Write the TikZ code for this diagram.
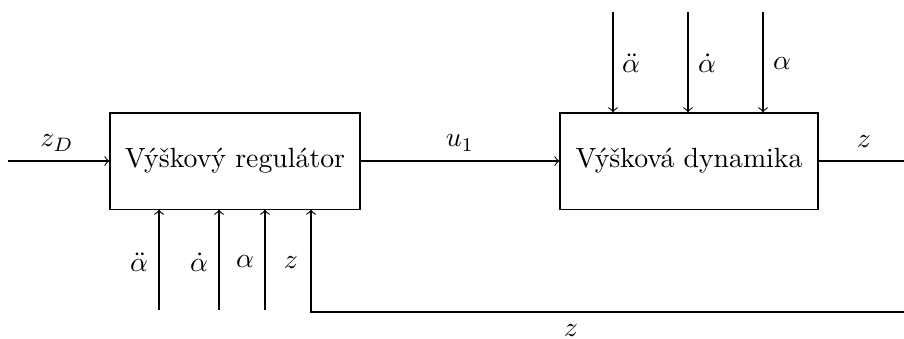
\documentclass[tikz,border=0pt]{standalone}
\usepackage{amsmath}
\usepackage{amssymb}
\usetikzlibrary{calc,positioning}

\begin{document}
\begin{tikzpicture}[x=0.36pt,y=-0.36pt,
		blok/.style={draw, minimum height=34.6pt, inner sep=0pt}]
		\useasboundingbox (0,0) rectangle (904,338);

		\node[blok, minimum width=90pt] (reg) at (235,161) {Výškový regulátor};
		\node[blok, minimum width=92.9pt] (dyn) at (689,161) {Výšková dynamika};

		\coordinate (zD) at (8,161);
		\coordinate (zout) at (904,161);
		\coordinate (fb) at (904,312);

		% vstupy regulatoru
		\coordinate (r1) at (159,310);
		\coordinate (r2) at (219,310);
		\coordinate (r3) at (265,310);
		\coordinate (r4) at (311,312);

		% vstupy dynamiky
		\coordinate (d1) at (613,12);
		\coordinate (d2) at (688,12);
		\coordinate (d3) at (763,12);

		\draw[->] (zD) -- (reg);
		\draw[->] (reg) -- (dyn);
		\draw (dyn) -- (zout);

		\draw[->] (r1) -- (r1 |- reg.south);
		\draw[->] (r2) -- (r2 |- reg.south);
		\draw[->] (r3) -- (r3 |- reg.south);
		\draw[->] (fb) -- (r4) -- (r4 |- reg.south);

		\draw[->] (d1) -- (d1 |- dyn.north);
		\draw[->] (d2) -- (d2 |- dyn.north);
		\draw[->] (d3) -- (d3 |- dyn.north);

		\node at (57,143) {$z_D$};
		\node at (460,143) {$u_1$};
		\node at (864,142) {$z$};
		\node at (571,330) {$z$};

		\node at (139,262) {$\ddot{\alpha}$};
		\node at (199,262) {$\dot{\alpha}$};
		\node at (245,262) {$\alpha$};
		\node at (291,263) {$z$};

		\node at (631,63) {$\ddot{\alpha}$};
		\node at (707,63) {$\dot{\alpha}$};
		\node at (782,64) {$\alpha$};
	\end{tikzpicture}
\end{document}
